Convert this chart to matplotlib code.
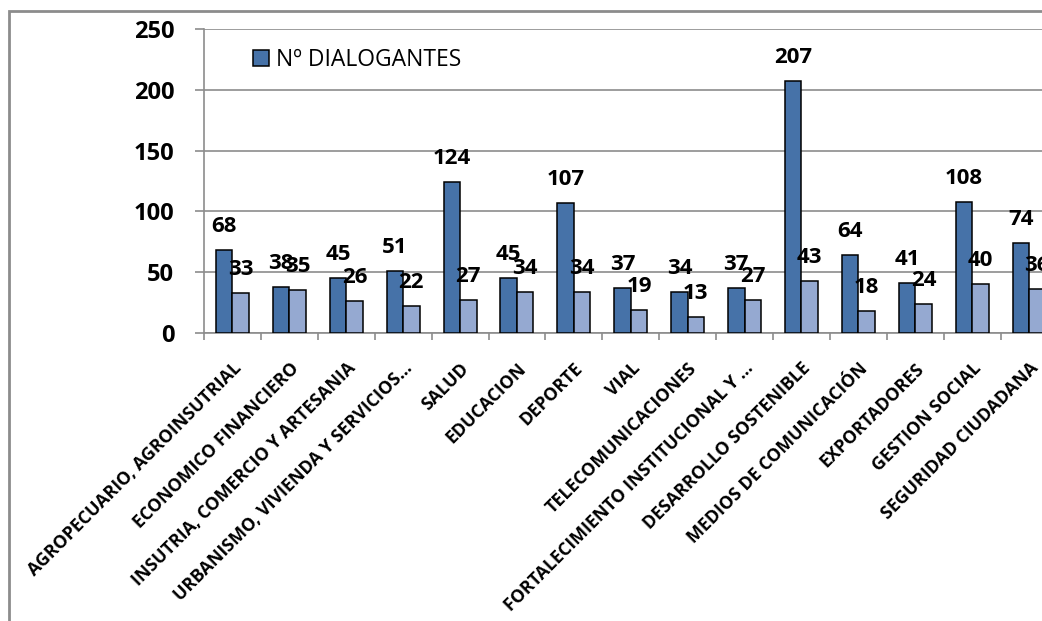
import matplotlib
matplotlib.use("Agg")
import matplotlib.pyplot as plt
from matplotlib.patches import Rectangle, Patch
import numpy as np

categories = [
    "AGROPECUARIO, AGROINSUTRIAL",
    "ECONOMICO FINANCIERO",
    "INSUTRIA, COMERCIO Y ARTESANIA",
    "URBANISMO, VIVIENDA Y SERVICIOS...",
    "SALUD",
    "EDUCACION",
    "DEPORTE",
    "VIAL",
    "TELECOMUNICACIONES",
    "FORTALECIMIENTO INSTITUCIONAL Y ...",
    "DESARROLLO SOSTENIBLE",
    "MEDIOS DE COMUNICACIÓN",
    "EXPORTADORES",
    "GESTION SOCIAL",
    "SEGURIDAD CIUDADANA",
]
dialogantes = [68, 38, 45, 51, 124, 45, 107, 37, 34, 37, 207, 64, 41, 108, 74]
serie2 = [33, 35, 26, 22, 27, 34, 34, 19, 13, 27, 43, 18, 24, 40, 36]
series_names = ["Nº DIALOGANTES", ""]
yticks = [0, 50, 100, 150, 200, 250]

FONT = "Open Sans"
plt.rcParams['font.family'] = [FONT, 'DejaVu Sans']

W, H = 1042, 621
fig = plt.figure(figsize=(W / 100, H / 100), dpi=100)
left_px, right_px, top_px, bot_px = 204, 1057.5, 29, 333
ax = fig.add_axes([left_px / W, 1 - bot_px / H, (right_px - left_px) / W, (bot_px - top_px) / H])

x = np.arange(len(categories))
bw = 0.29
dark = "#4672A8"
light = "#95A9D1"
b1 = ax.bar(x - bw / 2, dialogantes, bw, color=dark, edgecolor="black", linewidth=1.1, zorder=3)
b2 = ax.bar(x + bw / 2, serie2, bw, color=light, edgecolor="black", linewidth=1.1, zorder=3)

for bars, vals in ((b1, dialogantes), (b2, serie2)):
    for r, v in zip(bars, vals):
        ax.annotate(str(v), (r.get_x() + r.get_width() / 2, v), xytext=(0, 13),
                    textcoords="offset points", ha="center", va="baseline",
                    fontsize=16, fontweight="bold", color="black", zorder=5,
                    annotation_clip=False)

ax.set_xlim(-0.5, len(categories) - 0.5)
ax.set_ylim(0, 250)
ax.set_yticks(yticks)
ax.set_yticklabels([str(t) for t in yticks], fontsize=17, fontweight="bold")
ax.yaxis.grid(True, color="#8c8c8c", linewidth=1.2, zorder=0)
ax.set_axisbelow(True)

ax.set_xticks(x)
ax.set_xticklabels(categories, fontsize=12.8, fontweight="bold")
plt.setp(ax.get_xticklabels(), rotation=45, ha="right", rotation_mode="anchor")
ax.set_xticks(np.arange(len(categories) + 1) - 0.5, minor=True)
ax.tick_params(axis="x", which="major", length=0, pad=19)
ax.tick_params(axis="x", which="minor", length=5, color="#8c8c8c", width=1.2)
ax.tick_params(axis="y", which="major", length=6.5, color="#8c8c8c", width=1.2, pad=15)

for s in ("top", "right"):
    ax.spines[s].set_visible(False)
for s in ("left", "bottom"):
    ax.spines[s].set_color("#8c8c8c")
    ax.spines[s].set_linewidth(1.2)

handle = Patch(facecolor=dark, edgecolor="black", linewidth=1.1)
leg = ax.legend([handle], [series_names[0]], loc="center left", bbox_to_anchor=(0.057, 0.898),
                frameon=False, fontsize=16.5, handlelength=0.7, handleheight=0.7,
                handletextpad=0.3, borderaxespad=0, borderpad=0)

# outer chart border (cropped on right / bottom)
border = Rectangle((9 / W, -0.05), 1.1, 1 - 11 / H + 0.05, transform=fig.transFigure,
                   fill=False, edgecolor="#8c8c8c", linewidth=2, clip_on=False)
fig.patches.append(border)

fig.savefig("out.png", dpi=100)
